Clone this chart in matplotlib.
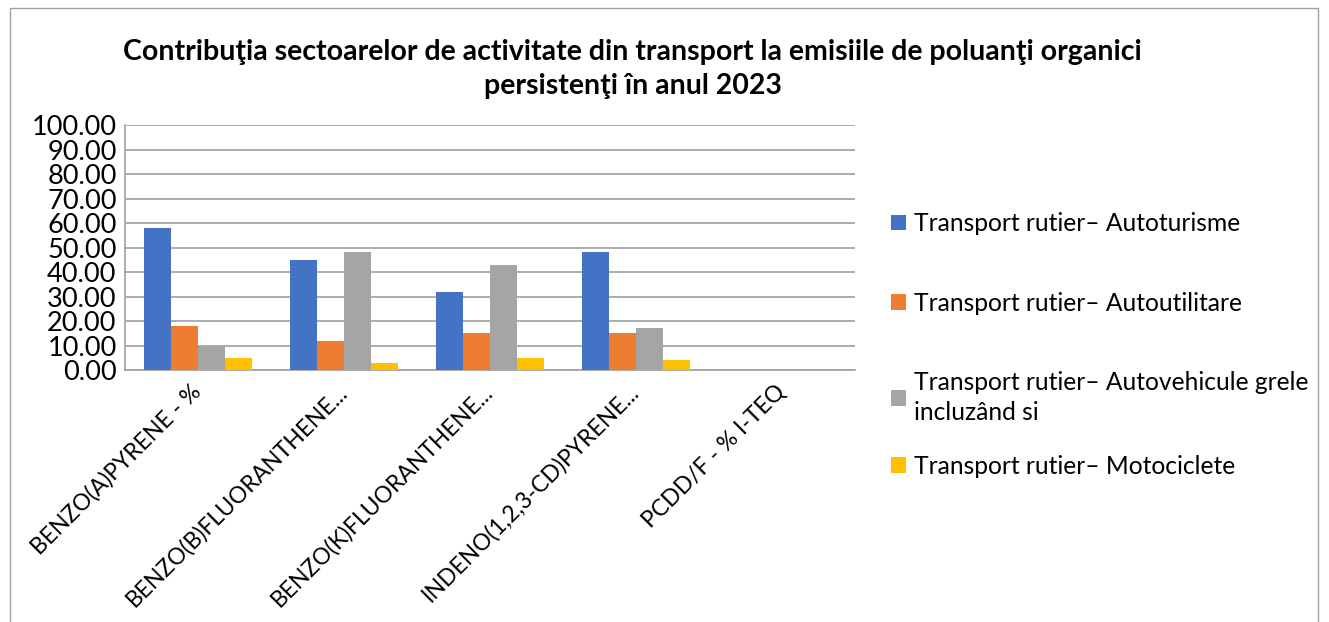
import numpy as np
import matplotlib.pyplot as plt
from matplotlib.patches import Rectangle

# DATA
categories = ['BENZO(A)PYRENE - %', 'BENZO(B)FLUORANTHENE...', 'BENZO(K)FLUORANTHENE...',
              'INDENO(1,2,3-CD)PYRENE...', 'PCDD/F - % I-TEQ']
series_names = ['Transport rutier– Autoturisme', 'Transport rutier– Autoutilitare',
                'Transport rutier– Autovehicule grele\nincluzând si', 'Transport rutier– Motociclete']
autoturisme = [58, 45, 32, 48, 0]
autoutilitare = [18, 12, 15, 15, 0]
grele = [10, 48, 43, 17, 0]
motociclete = [5, 3, 5, 4, 0]
colors = ['#4472C4', '#ED7D31', '#A5A5A5', '#FFC000']
title = 'Contribuţia sectoarelor de activitate din transport la emisiile de poluanţi organici\npersistenţi în anul 2023'

plt.rcParams['font.family'] = ['Lato', 'DejaVu Sans']

fig = plt.figure(figsize=(13.29, 6.22), dpi=100)
ax = fig.add_axes([0.094, 0.405, 0.549, 0.394])

# outer chart border
fig.patches.append(Rectangle((10/1329, -0.1), 1308/1329, 1.1 - 8/622, transform=fig.transFigure,
                             fill=False, edgecolor='#A0A0A0', linewidth=1.0))

x = np.arange(len(categories))
w = 0.185
data = [autoturisme, autoutilitare, grele, motociclete]
bars = []
for i, vals in enumerate(data):
    b = ax.bar(x + (i - 1.5) * w, vals, w, color=colors[i], label=series_names[i], zorder=3)
    bars.append(b)

ax.set_xlim(-0.5, len(categories) - 0.5)
ax.set_ylim(0, 100)
ax.set_yticks(np.arange(0, 101, 10))
ax.set_yticklabels(['%.2f' % v for v in np.arange(0, 101, 10)], fontsize=19.5)
ax.yaxis.grid(True, color='#A0A0A0', linewidth=1.2, zorder=0)
ax.tick_params(axis='y', length=0, pad=6)
ax.tick_params(axis='x', length=0, pad=13)
ax.set_xticks(x)
ax.set_xticklabels(categories, rotation=45, ha='right', va='center', rotation_mode='anchor', fontsize=16.5)
for s in ['top', 'right']:
    ax.spines[s].set_visible(False)
for s in ['left', 'bottom']:
    ax.spines[s].set_color('#A0A0A0')
    ax.spines[s].set_linewidth(1.2)

fig.text(0.476, 0.889, title, ha='center', va='center', fontsize=20.5, fontweight='bold', linespacing=1.35)

# legend: first three entries, then the last one a bit closer (as in the original)
leg1 = ax.legend(bars[:3], series_names[:3], loc='upper left', bbox_to_anchor=(1.05, 0.645),
                 frameon=False, fontsize=17.7, handlelength=0.6, handleheight=0.6,
                 handletextpad=0.35, labelspacing=2.3, borderpad=0, borderaxespad=0)
leg1.get_texts()[2].set_linespacing(1.35)
ax.add_artist(leg1)
ax.legend(bars[3:], series_names[3:], loc='upper left', bbox_to_anchor=(1.05, -0.345),
          frameon=False, fontsize=17.7, handlelength=0.6, handleheight=0.6,
          handletextpad=0.35, borderpad=0, borderaxespad=0)

plt.savefig('out.png', dpi=100)
plt.close()
